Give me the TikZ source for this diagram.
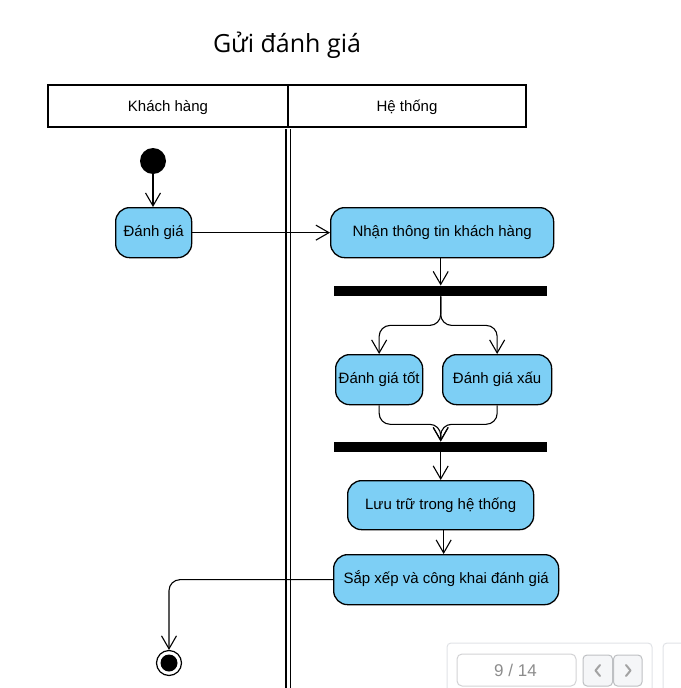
\documentclass[tikz,border=0pt]{standalone}
\usepackage{fontspec}
\setmainfont{Liberation Sans}
\newfontfamily\titlefont{Open Sans}
\usetikzlibrary{arrows.meta}
\definecolor{actblue}{RGB}{125,207,245}
\definecolor{widgetline}{RGB}{224,226,230}
\definecolor{widgettext}{RGB}{140,140,140}
\definecolor{btnfill}{RGB}{245,246,248}
\tikzset{
  act/.style={draw=black, line width=1.3pt, fill=actblue, rounded corners=14pt,
    minimum height=50pt, inner sep=0pt, font=\fontsize{15}{17}\selectfont, anchor=north west,
    text height=9pt, text depth=1pt},
  flow/.style={draw=black, line width=1.1pt, -{Straight Barb[length=13pt,width=15pt,line width=1.1pt]}},
  bar/.style={fill=black, draw=none, minimum height=10.5pt, inner sep=0pt, anchor=north west},
  lane/.style={font=\fontsize{15}{17}\selectfont},
  wbox/.style={draw=widgetline, line width=1pt, rounded corners=4pt}
}
\begin{document}
\begin{tikzpicture}[x=1pt,y=-1pt]
\useasboundingbox (0,0) rectangle (680,688);
% title
\node[font=\titlefont\fontsize{25}{29}\selectfont] (title) at (287,45) {Gửi đánh giá};
% header
\draw[line width=1.2pt] (48,85) rectangle (526,127);
\draw[line width=1.2pt] (288,85) -- (288,127);
\node[lane] (lanek) at (168,107.5) {Khách hàng};
\node[lane] (laneh) at (407,107.5) {Hệ thống};
% double separator
\draw[line width=1.2pt] (286,129) -- (286,688);
\draw[line width=1.2pt] (290.5,129) -- (290.5,688);
% start
\node[circle, fill=black, minimum size=26pt, inner sep=0pt] (start) at (153,161) {};
% activities
\node[act, minimum width=76pt] (danhgia) at (115,207) {Đánh giá};
\node[act, minimum width=223pt] (nhan) at (330,207) {Nhận thông tin khách hàng};
\node[bar, minimum width=213pt] (fork) at (334,285.5) {};
\node[act, minimum width=87pt] (tot) at (335,354) {Đánh giá tốt};
\node[act, minimum width=109pt] (xau) at (442,354) {Đánh giá xấu};
\node[bar, minimum width=213pt] (join) at (334,441.5) {};
\node[act, minimum width=186pt, minimum height=49pt] (luu) at (347,480) {Lưu trữ trong hệ thống};
\node[act, minimum width=225pt] (sapxep) at (333,554) {Sắp xếp và công khai đánh giá};
% end
\node[circle, draw=black, line width=1.2pt, fill=white, minimum size=25pt, inner sep=0pt] (endo) at (169,663) {};
\node[circle, fill=black, minimum size=17pt, inner sep=0pt] (endi) at (endo.center) {};
% connectors
\draw[flow] (start) -- (danhgia.north -| start);
\draw[flow] (danhgia.east) -- (nhan.west);
\draw[flow] (nhan.south -| fork.north) -- (fork.north);
\coordinate (forkc) at (fork.south);
\draw[flow, rounded corners=11pt] (forkc) -- ([yshift=-29pt]forkc) -- ([yshift=-29pt]forkc -| tot.north) -- (tot.north);
\draw[flow, rounded corners=11pt] (forkc) -- ([yshift=-29pt]forkc) -- ([yshift=-29pt]forkc -| xau.north) -- (xau.north);
\coordinate (joinc) at (join.north);
\draw[flow, rounded corners=11pt] (tot.south) -- ([yshift=-19pt]tot.south) -- ([yshift=-19pt]tot.south -| joinc) -- (joinc);
\draw[flow, rounded corners=11pt] (xau.south) -- ([yshift=-19pt]xau.south) -- ([yshift=-19pt]xau.south -| joinc) -- (joinc);
\draw[flow] (join.south) -- (luu.north -| join.south);
\draw[flow] ([xshift=3pt]luu.south) -- ([xshift=3pt]luu.south |- sapxep.north);
\draw[flow, rounded corners=11pt] (sapxep.west) -- (sapxep.west -| endo.center) -- (endo.north);
% viewer widget
\draw[wbox] (447,695) -- (447,643) -- (652,643) -- (652,695);
\draw[draw=widgetline!80!black!60!white, line width=1pt, rounded corners=5pt] (457,654) rectangle (576,686);
\node[text=widgettext, font=\fontsize{17}{19}\selectfont] (page) at (515.5,670) {9 / 14};
\draw[draw=widgetline!85!black, fill=btnfill, line width=1pt, rounded corners=4pt] (583,655) rectangle (612.5,686);
\draw[draw=widgetline!85!black, fill=btnfill, line width=1pt, rounded corners=4pt] (613.5,655) rectangle (642,686);
\draw[draw=widgettext!80!white, line width=2pt, line cap=round, line join=round] (600,665) -- (595.5,670.5) -- (600,676);
\draw[draw=widgettext!80!white, line width=2pt, line cap=round, line join=round] (626,665) -- (630.5,670.5) -- (626,676);
\draw[wbox] (663,695) -- (663,643) -- (690,643);
\end{tikzpicture}
\end{document}
